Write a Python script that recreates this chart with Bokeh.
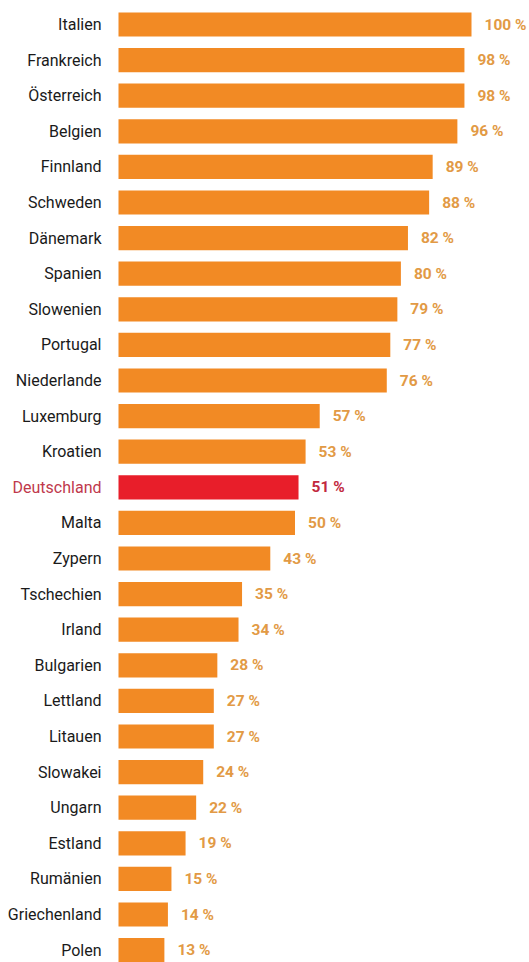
from bokeh.plotting import figure
from bokeh.models import Range1d, ColumnDataSource
from bokeh.core.properties import value
from bokeh.embed import file_html
from bokeh.resources import INLINE

countries = ["Italien", "Frankreich", "Österreich", "Belgien", "Finnland", "Schweden",
             "Dänemark", "Spanien", "Slowenien", "Portugal", "Niederlande", "Luxemburg",
             "Kroatien", "Deutschland", "Malta", "Zypern", "Tschechien", "Irland",
             "Bulgarien", "Lettland", "Litauen", "Slowakei", "Ungarn", "Estland",
             "Rumänien", "Griechenland", "Polen"]
values = [100, 98, 98, 96, 89, 88, 82, 80, 79, 77, 76, 57, 53, 51, 50, 43, 35, 34,
          28, 27, 27, 24, 22, 19, 15, 14, 13]
highlight = "Deutschland"

ORANGE = "#F28A24"
RED = "#E81E2A"
VAL_ORANGE = "#E29A45"
VAL_RED = "#C2283E"
NAME_RED = "#C0394C"

ys = list(range(len(countries)))
bar_colors = [RED if c == highlight else ORANGE for c in countries]
name_colors = [NAME_RED if c == highlight else "#1a1a1a" for c in countries]
val_colors = [VAL_RED if c == highlight else VAL_ORANGE for c in countries]
labels = [f"{v} %" for v in values]

src = ColumnDataSource(dict(y=ys, v=values, c=countries, bc=bar_colors,
                            nc=name_colors, vc=val_colors, lab=labels,
                            zero=[0] * len(ys)))

W, H = 529, 962
pxper = 3.53
left_px = 118
p = figure(width=W, height=H, output_backend="svg", toolbar_location=None,
           min_border=0, outline_line_color=None)
p.x_range = Range1d(-left_px / pxper, (W - left_px) / pxper)
row = 35.6
top = 24
p.y_range = Range1d((H - top) / row, -top / row)
p.axis.visible = False
p.grid.visible = False
p.background_fill_color = "white"
p.border_fill_color = "white"

p.hbar(y="y", left=0, right="v", height=0.68, fill_color="bc", line_color=None, source=src)

font = value("Roboto")
p.text(x="zero", y="y", text="c", x_offset=-17, text_align="right", text_baseline="middle",
       text_font=font, text_font_size="16px", text_color="nc", source=src)
p.text(x="v", y="y", text="lab", x_offset=13, text_align="left", text_baseline="middle",
       text_font=font, text_font_size="15.5px", text_font_style="bold", text_color="vc", source=src)

open("out.html", "w").write(file_html(p, INLINE))
